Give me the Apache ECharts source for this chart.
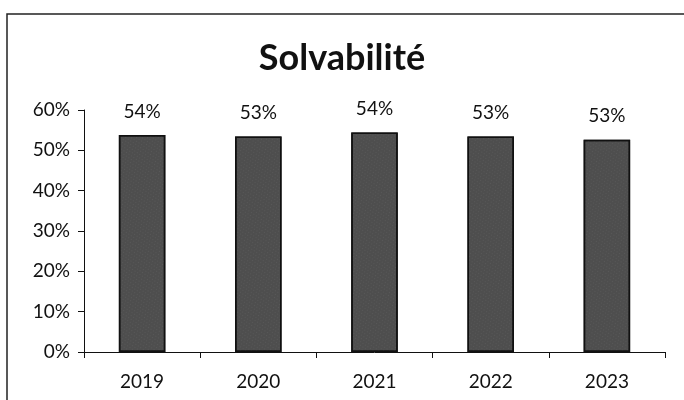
<!DOCTYPE html>
<html>
	<head>
		<meta charset="utf-8">
		<title>Solvabilité</title>
		<script src="https://cdn.jsdelivr.net/npm/echarts@6/dist/echarts.min.js"></script>
		<style>
			html, body { margin: 0; padding: 0; background: #fff; }
			#chart { width: 684px; height: 400px; }
		</style>
	</head>
	<body>
		<div id="chart"></div>
		<script>
			// données
			const years = ['2019', '2020', '2021', '2022', '2023'];
			const ratios = [53.8, 53.4, 54.4, 53.4, 52.6];
			const yTicks = [0, 10, 20, 30, 40, 50, 60];

			const chart = echarts.init(document.getElementById('chart'), null, {renderer: 'canvas'});
			const font = 'Lato, "Open Sans", sans-serif';

			const option = {
				animation: false,
				backgroundColor: '#fff',
				title: {
					text: 'Solvabilité',
					left: 'center',
					top: 35,
					textStyle: {fontFamily: font, fontSize: 36, fontWeight: 'bold', color: '#111'}
				},
				graphic: [{
					type: 'polyline',
					shape: {points: [[7, 400], [7, 14], [684, 14]]},
					style: {stroke: '#222', lineWidth: 1.5, fill: null}
				}],
				grid: {left: 84, right: 19, top: 110, bottom: 48},
				xAxis: {
					type: 'category',
					data: years,
					boundaryGap: true,
					axisLine: {lineStyle: {color: '#111', width: 1}},
					axisTick: {show: true, length: 6, lineStyle: {color: '#111'}},
					axisLabel: {fontFamily: font, fontSize: 19, color: '#111', margin: 20}
				},
				yAxis: {
					type: 'value',
					min: yTicks[0],
					max: yTicks[yTicks.length - 1],
					interval: 10,
					axisLine: {show: true, lineStyle: {color: '#111', width: 1}},
					axisTick: {show: true, length: 6, lineStyle: {color: '#111'}},
					splitLine: {show: false},
					axisLabel: {fontFamily: font, fontSize: 19, color: '#111', margin: 14, formatter: v => v + '%'}
				},
				series: [{
					type: 'bar',
					data: ratios,
					barWidth: '40%',
					itemStyle: {
						color: '#4e4e4e',
						borderColor: '#111',
						borderWidth: 1.5,
						decal: {
							symbol: 'circle',
							symbolSize: 0.5,
							color: 'rgba(255,255,255,0.35)',
							dashArrayX: [[1, 2], [0, 1, 1, 1]],
							dashArrayY: [1, 2],
							rotation: 0.6
						}
					},
					label: {
						show: true,
						position: 'top',
						distance: 14,
						fontFamily: font,
						fontSize: 19,
						color: '#111',
						formatter: p => Math.round(p.value) + '%'
					}
				}]
			};
			chart.setOption(option);
		</script>
	</body>
</html>
